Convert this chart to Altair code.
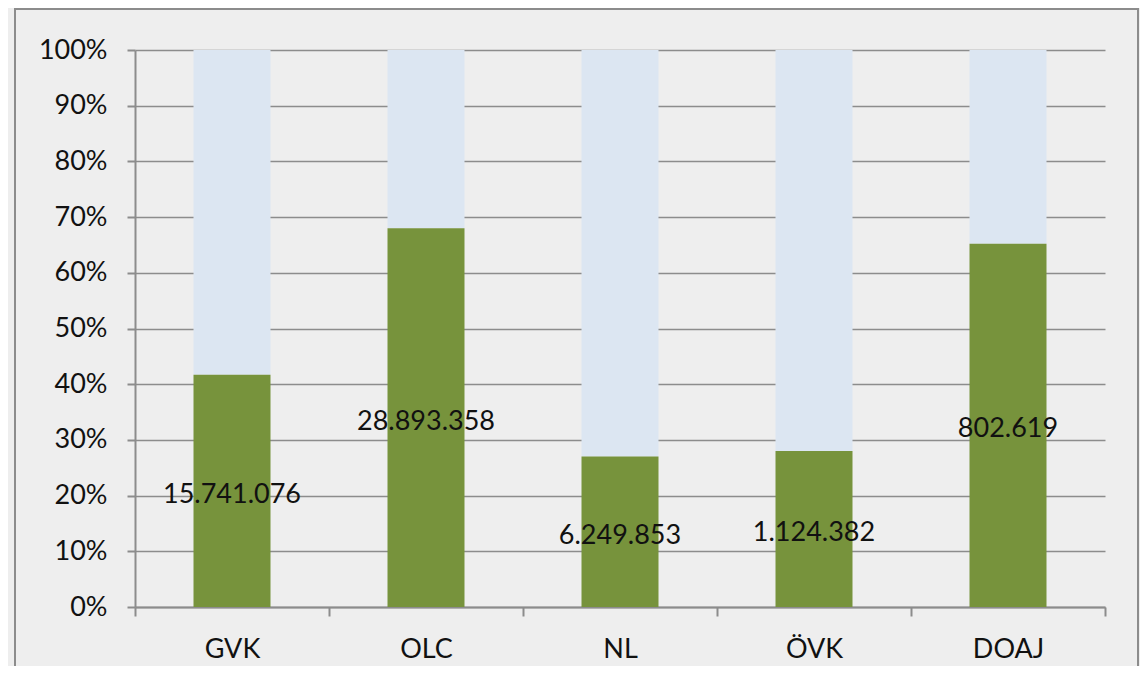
import altair as alt
import pandas as pd

categories = ["GVK", "OLC", "NL", "ÖVK", "DOAJ"]
green_share = [0.417, 0.680, 0.270, 0.280, 0.652]
labels = ["15.741.076", "28.893.358", "6.249.853", "1.124.382", "802.619"]

df = pd.DataFrame({"cat": categories, "share": green_share, "label": labels})

FONT = "Lato"
GRID = "#8C8C8C"
FS = 27

xenc = alt.X("cat:N", sort=categories, title=None,
             scale=alt.Scale(paddingInner=0.0, paddingOuter=0.0),
             axis=alt.Axis(labelAngle=0, tickBand="extent", domainColor=GRID, domainWidth=2,
                           tickColor=GRID, tickWidth=2, tickSize=9, labelPadding=20,
                           labelFontSize=FS, labelColor="#111", labelFont=FONT))
yscale = alt.Scale(domain=[0, 1])

base = alt.Chart(df)

blue = base.mark_bar(color="#DCE6F2", size=77).encode(
    x=xenc,
    y=alt.Y("share:Q", scale=yscale, title=None,
            axis=alt.Axis(format=".0%", values=[i / 10 for i in range(11)],
                          grid=True, gridColor=GRID, gridWidth=1.6,
                          domainColor=GRID, domainWidth=2, tickColor=GRID, tickWidth=2,
                          tickSize=8, labelPadding=20, labelFontSize=FS,
                          labelColor="#111", labelFont=FONT)),
    y2=alt.datum(1),
)

green = base.mark_bar(color="#77933C", size=77).encode(
    x=alt.X("cat:N", sort=categories),
    y=alt.Y("share:Q", scale=yscale),
    y2=alt.datum(0),
)

text = base.transform_calculate(mid="datum.share / 2").mark_text(
    fontSize=FS, font=FONT, color="#111", baseline="middle", align="center", dy=4
).encode(
    x=alt.X("cat:N", sort=categories),
    y=alt.Y("mid:Q", scale=yscale),
    text="label:N",
)

frame = alt.Chart(pd.DataFrame({"a": [0]})).mark_rect(
    fill=None, stroke="#8C8C8C", strokeWidth=2
).encode(
    x=alt.value(-120), x2=alt.value(1003), y=alt.value(-41), y2=alt.value(800)
)

chart = alt.layer(frame, blue, green, text).properties(
    width=970, height=557,
    padding={"left": 127, "top": 42, "right": 35, "bottom": 59},
    autosize=alt.AutoSizeParams(type="none"),
    background="#EEEEEE",
).configure_view(stroke=None)

chart.save("out.html", embed_options={"renderer": "svg", "actions": False})
